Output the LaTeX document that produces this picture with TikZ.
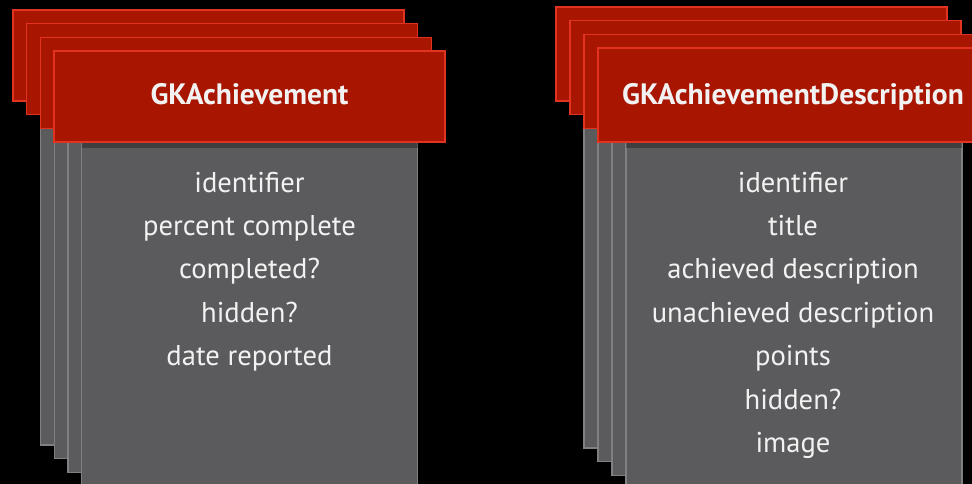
\documentclass[tikz,border=0pt]{standalone}
\usepackage{fontspec}
\setmainfont{PT Sans}
\newcommand*{\cardfont}{\fontsize{28.6}{43.4}\selectfont}
\newcommand*{\titlefont}{\fontsize{29.5}{43.4}\selectfont\bfseries}
\definecolor{R}{RGB}{168,22,2}
\definecolor{Redge}{RGB}{226,50,32}
\definecolor{G}{RGB}{91,91,93}
\definecolor{Gedge}{RGB}{128,128,130}
\definecolor{txt}{RGB}{242,242,242}
\usetikzlibrary{positioning}
\tikzstyle{base}=[x=1pt, y=-1pt, inner sep=0pt, outer sep=0pt]
\tikzstyle{head}=[draw=Redge, line width=1.5pt, fill=R]
\tikzstyle{body}=[draw=Gedge, line width=1.2pt, fill=G]
\tikzstyle{shade}=[fill=black, opacity=0.3]
\tikzstyle{label}=[txt, anchor=base, font=\cardfont]

\begin{document}
\begin{tikzpicture}[base]
    \fill [black] (0,0) rectangle (972,484);
    \path [use as bounding box] (0,0) rectangle (972,484);
    % GKAchievement stack
    \foreach \i in {0,...,3} {
        \pgfmathsetmacro{\hx}{13+13.7*\i}
        \pgfmathsetmacro{\hy}{10+13.7*\i}
        \draw [body] (\hx+27.5,\hy+40) rectangle (\hx+363.5,\hy+435);
        \fill [shade] (\hx+27.5,\hy+91) rectangle (\hx+363.5,\hy+97);
        \draw [head] (\hx,\hy) rectangle (\hx+391,\hy+91);
    }
    % GKAchievementDescription stack
    \foreach \i in {0,...,3} {
        \pgfmathsetmacro{\hx}{556+14*\i}
        \pgfmathsetmacro{\hy}{7+13.7*\i}
        \draw [body] (\hx+28,\hy+40) rectangle (\hx+364,\hy+441);
        \fill [shade] (\hx+28,\hy+94) rectangle (\hx+364,\hy+100);
        \draw [head] (\hx,\hy) rectangle (\hx+391,\hy+94);
    }
    \node [label, font=\titlefont] (ach) at (249.5,105) {GKAchievement};
    \node [label, font=\titlefont] (desc) at (793,105) {GKAchievementDescription};
    \foreach \t [count=\k] in {identifier, percent complete, completed?, hidden?, date reported}
        \node [label] (achl\k) at (249.5,192+43.4*\k-43.4) {\t};
    \foreach \t [count=\k] in {identifier, title, achieved description, unachieved description, points, hidden?, image}
        \node [label] (descl\k) at (793,192+43.4*\k-43.4) {\t};
\end{tikzpicture}
\end{document}
